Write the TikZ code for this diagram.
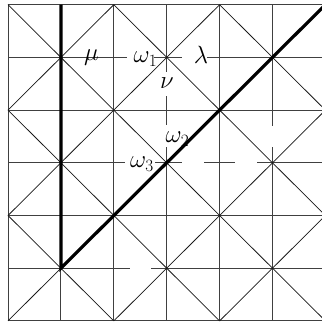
\documentclass[tikz,border=0pt]{standalone}
\usetikzlibrary{calc}
\tikzset{
  gridline/.style={black!75, line width=1pt},
  diagline/.style={black!90, line width=0.75pt},
  wall/.style={black, line width=3.2pt},
  hgap/.style={fill=white, inner sep=0pt, minimum height=3.5pt, minimum width=21.5pt},
  vgap/.style={fill=white, inner sep=0pt, minimum width=3.5pt, minimum height=21.5pt},
  lbl/.style={inner sep=0pt, anchor=base, font=\fontsize{24}{28}\selectfont},
}
\begin{document}
\begin{tikzpicture}[x=1pt,y=-1pt]
\useasboundingbox (0,0) rectangle (322,322);
\clip (0,0) rectangle (322,322);
\foreach \i in {0,...,6}{\foreach \j in {0,...,6}{
  \coordinate (v-\i-\j) at ({8+52.9*\i},{4.7+52.7*\j});
}}
% square grid
\foreach \k in {0,...,6}{
  \draw[gridline] (v-\k-0) -- (v-\k-6);
  \draw[gridline] (v-0-\k) -- (v-6-\k);
}
% diagonals
\draw[diagline] (v-0-2) -- (v-2-0);
\draw[diagline] (v-0-4) -- (v-4-0);
\draw[diagline] (v-0-6) -- (v-6-0);
\draw[diagline] (v-2-6) -- (v-6-2);
\draw[diagline] (v-4-6) -- (v-6-4);
\draw[diagline] (v-0-0) -- (v-6-6);
\draw[diagline] (v-2-0) -- (v-6-4);
\draw[diagline] (v-0-2) -- (v-4-6);
\draw[diagline] (v-4-0) -- (v-6-2);
\draw[diagline] (v-0-4) -- (v-2-6);
% gaps
\node[hgap, minimum width=26.5pt] (gw1) at ($(v-2-1)!0.5!(v-3-1)$) {};
\node[hgap, minimum width=25pt] (gl) at ($(v-3-1)!0.5!(v-4-1)+(1.3,0)$) {};
\node[vgap, minimum height=23.5pt] (gn) at ($(v-3-1)!0.5!(v-3-2)$) {};
\node[vgap, minimum height=22pt] (gw2) at ($(v-3-2)!0.5!(v-3-3)$) {};
\node[hgap, minimum width=30pt] (gw3) at ($(v-2-3)!0.5!(v-3-3)$) {};
\node[hgap] (ga) at ($(v-3-3)!0.5!(v-4-3)$) {};
\node[hgap] (gb) at ($(v-4-3)!0.5!(v-5-3)$) {};
\node[vgap] (gc) at ($(v-5-2)!0.5!(v-5-3)$) {};
\node[hgap] (gd) at ($(v-2-5)!0.5!(v-3-5)$) {};
% labels
\node[lbl] (mu) at (91.5,60) {$\mu$};
\node[lbl] (om1) at (145.5,62.5) {$\omega_1$};
\node[lbl] (la) at (201,63.5) {$\lambda$};
\node[lbl] (nu) at (167,88.5) {$\nu$};
\node[lbl] (om2) at (177.5,142.5) {$\omega_2$};
\node[lbl] (om3) at (142,167.5) {$\omega_3$};
% walls
\draw[wall] (v-1-0) -- (v-1-5) -- (v-6-0);
\end{tikzpicture}
\end{document}
